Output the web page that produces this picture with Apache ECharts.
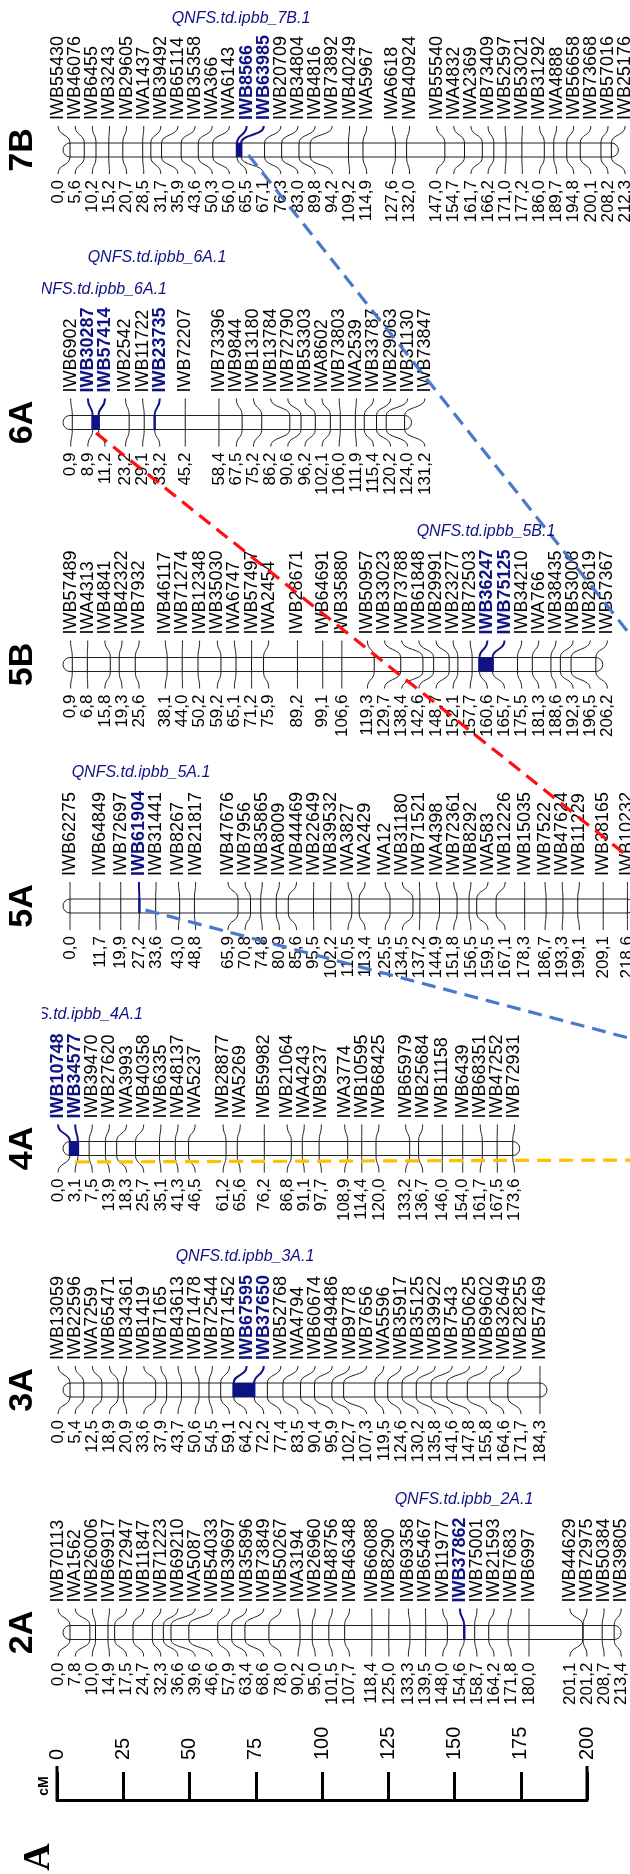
<!DOCTYPE html>
<html><head><meta charset="utf-8">
<script src="https://cdn.jsdelivr.net/npm/echarts@6/dist/echarts.min.js"></script>
<style>html,body{margin:0;padding:0;background:#fff}#c{width:630px;height:1874px}</style>
</head><body><div id="c"></div>
<script>
// ---------------- DATA ----------------
const chromosomes = ['7B','6A','5B','5A','4A','3A','2A'];

const markers_7B = ['IWB55430','IWB46076','IWB6455','IWB3243','IWB29605','IWA1437','IWB39492','IWB65114','IWB35358','IWA366','IWA6143','IWB8566','IWB63985','IWB20709','IWB34804','IWB4816','IWB73892','IWB40249','IWA5967','IWA6618','IWB40924','IWB55540','IWA4832','IWA2369','IWB73409','IWB52597','IWB53021','IWB31292','IWA4888','IWB56658','IWB73668','IWB57016','IWB25176'];
const pos_7B = [0.0,5.6,10.2,15.2,20.7,28.5,31.7,35.9,43.6,50.3,56.0,65.5,67.1,76.3,83.0,89.8,94.2,109.2,114.9,127.6,132.0,147.0,154.7,161.7,166.2,171.0,177.2,186.0,189.7,194.8,200.1,208.2,212.3];

const markers_6A = ['IWB6902','IWB30287','IWB57414','IWB2542','IWB11722','IWB23735','IWB72207','IWB73396','IWB9844','IWB13180','IWB13784','IWB72790','IWB53303','IWA8602','IWB73803','IWA2539','IWB33787','IWB29063','IWB31130','IWB73847'];
const pos_6A = [0.9,8.9,11.2,23.2,29.1,33.2,45.2,58.4,67.5,75.2,86.2,90.6,96.2,102.1,106.0,111.9,115.4,120.2,124.0,131.2];

const markers_5B = ['IWB57489','IWA4313','IWB4841','IWB42322','IWB7932','IWB46117','IWB71274','IWB12348','IWB35030','IWA6747','IWB57497','IWA2454','IWB28671','IWB64691','IWB35880','IWB50957','IWB33023','IWB73788','IWB61848','IWB29991','IWB23277','IWB72503','IWB36247','IWB75125','IWB34210','IWA766','IWB38435','IWB53008','IWB28619','IWB57367'];
const pos_5B = [0.9,6.8,15.8,19.3,25.6,38.1,44.0,50.2,59.2,65.1,71.2,75.9,89.2,99.1,106.6,119.3,129.7,138.4,142.6,148.7,152.1,157.7,160.6,165.7,175.5,181.3,188.6,192.3,196.5,206.2];

const markers_5A = ['IWB62275','IWB64849','IWB72697','IWB61904','IWB31441','IWB8267','IWB21817','IWB47676','IWB7956','IWB35865','IWA8009','IWB44469','IWB22649','IWB39532','IWA3827','IWA2429','IWA12','IWB31180','IWB71521','IWA4398','IWB72361','IWB8292','IWA583','IWB12226','IWB15035','IWB7522','IWB47624','IWB11229','IWB38165','IWB10232'];
const pos_5A = [0.0,11.7,19.9,27.2,33.6,43.0,48.8,65.9,70.8,74.8,80.9,85.6,95.5,102.2,110.5,113.4,125.5,134.5,137.2,144.9,151.8,156.5,159.5,167.1,178.3,186.7,193.3,199.1,209.1,218.6];

const markers_4A = ['IWB10748','IWB34577','IWB39470','IWB27620','IWA3993','IWB40358','IWB6335','IWB48137','IWA5237','IWB28877','IWA5269','IWB59982','IWB21064','IWA4243','IWB9237','IWA3774','IWB10595','IWB68425','IWB65979','IWB25684','IWB11158','IWB6439','IWB68351','IWB47252','IWB72931'];
const pos_4A = [0.0,3.1,7.5,13.9,18.3,25.7,35.1,41.3,46.5,61.2,65.6,76.2,86.8,91.1,97.7,108.9,114.4,120.0,133.2,136.7,146.0,154.0,161.7,167.5,173.6];

const markers_3A = ['IWB13059','IWB22596','IWA7259','IWB65471','IWB34361','IWB1419','IWB7165','IWB43613','IWB71478','IWB72544','IWB71452','IWB67595','IWB37650','IWB52768','IWA4794','IWB60674','IWB49486','IWB9778','IWB7656','IWA5596','IWB35917','IWB35125','IWB39922','IWB7543','IWB50625','IWB69602','IWB32649','IWB28255','IWB57469'];
const pos_3A = [0.0,5.4,12.5,18.9,20.9,33.6,37.9,43.7,50.6,54.5,59.1,64.2,72.2,77.4,83.5,90.4,95.9,102.7,107.3,119.5,124.6,130.2,135.8,141.6,147.8,155.8,164.6,171.7,184.3];

const markers_2A = ['IWB70113','IWA1562','IWB26006','IWB69917','IWB72947','IWB11847','IWB71223','IWB69210','IWA5087','IWB54033','IWB39697','IWB35896','IWB73849','IWB50267','IWA3194','IWB26960','IWB48756','IWB46348','IWB66088','IWB8290','IWB69358','IWB65467','IWB11977','IWB37862','IWB75001','IWB21593','IWB7683','IWB6997','IWB44629','IWB72975','IWB50384','IWB39805'];
const pos_2A = [0.0,7.8,10.0,14.9,17.5,24.7,32.3,36.6,39.6,46.6,57.9,63.4,68.6,78.0,90.2,95.0,101.5,107.7,118.4,125.0,133.3,139.5,148.0,154.6,158.7,164.2,171.8,180.0,201.1,201.2,208.7,213.4];

const qtlMarkers_7B = ['IWB8566','IWB63985'];
const qtlMarkers_6A = ['IWB30287','IWB57414','IWB23735'];
const qtlMarkers_5B = ['IWB36247','IWB75125'];
const qtlMarkers_5A = ['IWB61904'];
const qtlMarkers_4A = ['IWB10748','IWB34577'];
const qtlMarkers_3A = ['IWB67595','IWB37650'];
const qtlMarkers_2A = ['IWB37862'];

const qtlNames = ['QNFS.td.ipbb_7B.1','QNFS.td.ipbb_6A.1','QNFS.td.ipbb_6A.1','QNFS.td.ipbb_5B.1','QNFS.td.ipbb_5A.1','QNFS.td.ipbb_4A.1','QNFS.td.ipbb_3A.1','QNFS.td.ipbb_2A.1'];

const scaleMin = 0, scaleMax = 200, scaleStep = 25;

// ---------------- LAYOUT ----------------
const markerSets = {'7B':markers_7B,'6A':markers_6A,'5B':markers_5B,'5A':markers_5A,'4A':markers_4A,'3A':markers_3A,'2A':markers_2A};
const posSets = {'7B':pos_7B,'6A':pos_6A,'5B':pos_5B,'5A':pos_5A,'4A':pos_4A,'3A':pos_3A,'2A':pos_2A};
const qtlSets = {'7B':qtlMarkers_7B,'6A':qtlMarkers_6A,'5B':qtlMarkers_5B,'5A':qtlMarkers_5A,'4A':qtlMarkers_4A,'3A':qtlMarkers_3A,'2A':qtlMarkers_2A};
const ROW_Y = {'7B':150,'6A':422.5,'5B':664.5,'5A':906,'4A':1148.5,'3A':1390,'2A':1632.5};
const FONT = '"Liberation Sans", Arial, sans-serif';
const NAVY = '#0f1285';
const ROD = 7, CONN = 24, LOFF = 30, GAP = 17.15, LEFT_BOUND = 58;
const PX_PER_CM = 2.55, LEFT = 70, W = 630, H = 1874;

// dashed QTL links [fromCM, fromY, toCM, toY]
const LINKS = [
  {p:[70, 155, 223.5, 647], color:'#4a78cc'},
  {p:[10.2, 433, 223.5, 866], color:'#ff1010'},
  {p:[29.6, 910, 223.5, 1041], color:'#4a78cc'},
  {p:[2.0, 1162, 223.5, 1160], color:'#ffc000'}
];

function spread(ideal, gap, lo) {
  const cl = ideal.map(v => ({n:1, sum:v, first:v}));
  const place = c => { c.first = Math.max(lo, c.sum / c.n - (c.n - 1) * gap / 2); };
  cl.forEach(place);
  let merged = true;
  while (merged) {
    merged = false;
    for (let i = 0; i < cl.length - 1; i++) {
      const a = cl[i], b = cl[i + 1];
      if (a.first + a.n * gap > b.first + 1e-6) {
        a.n += b.n; a.sum += b.sum; place(a); cl.splice(i + 1, 1); merged = true; break;
      }
    }
  }
  const out = [];
  cl.forEach(c => { for (let k = 0; k < c.n; k++) out.push(c.first + k * gap); });
  return out;
}

function fmt(v) { return v.toFixed(1).replace('.', ','); }

function renderChrom(params, api) {
  const c = chromosomes[api.value(0)];
  const names = markerSets[c], pos = posSets[c], hiSet = qtlSets[c];
  const rowY = ROW_Y[c];
  const cy = api.coord([0, rowY])[1];
  const x0 = api.coord([0, rowY])[0];
  const tx = pos.map(p => api.coord([p, rowY])[0]);
  const lx = spread(tx, GAP, LEFT_BOUND);
  const hi = names.map(n => hiSet.indexOf(n) >= 0);
  const ch = [];
  ch.push({type:'rect', shape:{x:x0 - ROD, y:cy - ROD, width:tx[tx.length-1] - x0 + 2*ROD, height:2*ROD, r:ROD},
    style:{fill:'#fff', stroke:'#222', lineWidth:1}});
  pos.forEach((p, i) => {
    ch.push({type:'line', shape:{x1:tx[i], y1:cy - ROD, x2:tx[i], y2:cy + ROD},
      style:{stroke: hi[i] ? NAVY : '#111', lineWidth: hi[i] ? 2.5 : 1}});
  });
  let i = 0;
  while (i < pos.length) {
    if (hi[i]) {
      let j = i;
      while (j + 1 < pos.length && hi[j + 1]) j++;
      if (j > i) {
        ch.push({type:'rect', shape:{x:tx[i] - 1, y:cy - ROD, width:tx[j] - tx[i] + 2, height:2*ROD},
          style:{fill:NAVY}});
      }
      i = j + 1;
    } else i++;
  }
  pos.forEach((p, k) => {
    const col = hi[k] ? NAVY : '#222';
    const lw = hi[k] ? 2 : 1;
    ch.push({type:'bezierCurve', shape:{x1:lx[k], y1:cy - CONN, cpx1:lx[k], cpy1:cy - 14, cpx2:tx[k], cpy2:cy - 16, x2:tx[k], y2:cy - ROD},
      style:{stroke:col, lineWidth:lw, fill:null}});
    ch.push({type:'bezierCurve', shape:{x1:tx[k], y1:cy + ROD, cpx1:tx[k], cpy1:cy + 16, cpx2:lx[k], cpy2:cy + 14, x2:lx[k], y2:cy + CONN},
      style:{stroke:'#222', lineWidth:1, fill:null}});
    ch.push({type:'text', x:lx[k], y:cy - LOFF, rotation:Math.PI/2,
      style:{text:names[k], fill: hi[k] ? NAVY : '#000', fontSize:18, fontFamily:FONT, fontWeight: hi[k] ? 'bold' : 'normal', align:'left', verticalAlign:'middle'}});
    ch.push({type:'text', x:lx[k], y:cy + LOFF, rotation:Math.PI/2,
      style:{text:fmt(p), fill:'#000', fontSize:17, fontFamily:FONT, align:'right', verticalAlign:'middle'}});
  });
  ch.push({type:'text', x:23, y:cy, rotation:Math.PI/2,
    style:{text:c, fill:'#000', fontSize:34, fontWeight:'bold', fontFamily:FONT, align:'center', verticalAlign:'middle'}});
  return {type:'group', children:ch};
}

function renderLink(params, api) {
  const L = LINKS[api.value(0)];
  const a = api.coord([L.p[0], L.p[1]]), b = api.coord([L.p[2], L.p[3]]);
  return {type:'line', shape:{x1:a[0], y1:a[1], x2:b[0], y2:b[1]},
    style:{stroke:L.color, lineWidth:3.2, lineDash:[14, 8]}};
}

// longer end ticks of the cM scale
function renderEndTick(params, api) {
  const base = api.coord([api.value(0), 0]);
  return {type:'line', shape:{x1:base[0], y1:base[1], x2:base[0], y2:base[1] - 34},
    style:{stroke:'#000', lineWidth:3}};
}

const titleStyle = {fill:NAVY, fontSize:16, fontStyle:'italic', fontFamily:FONT};
function title(text, x, y, align) {
  return {type:'text', x:x, y:y, z:5, style:Object.assign({text:text, align:align || 'center', verticalAlign:'middle'}, titleStyle)};
}

const chart = echarts.init(document.getElementById('c'), null, {renderer:'canvas', width:W, height:H});
chart.setOption({
  animation:false,
  backgroundColor:'#fff',
  grid:[
    {left:LEFT, right:0, top:0, bottom:0, containLabel:false, outerBoundsMode:'none'},
    {left:57, top:1700, width:530, height:100, containLabel:false, outerBoundsMode:'none'}
  ],
  xAxis:[
    {gridIndex:0, type:'value', min:0, max:(W - LEFT) / PX_PER_CM, show:false},
    {gridIndex:1, type:'value', min:scaleMin, max:scaleMax, interval:scaleStep, position:'bottom',
      axisLine:{show:true, onZero:false, lineStyle:{color:'#000', width:3}},
      axisTick:{show:true, inside:true, length:28, lineStyle:{color:'#000', width:3}},
      axisLabel:{show:true, inside:true, rotate:90, margin:40, fontSize:20, color:'#000', fontFamily:FONT, showMinLabel:true, showMaxLabel:true},
      splitLine:{show:false}}
  ],
  yAxis:[
    {gridIndex:0, type:'value', min:0, max:H, inverse:true, show:false},
    {gridIndex:1, type:'value', min:0, max:1, show:false}
  ],
  series:[
    {type:'custom', xAxisIndex:0, yAxisIndex:0, silent:true, clip:false, z:2,
      data:chromosomes.map((c, i) => [i, 0]), renderItem:renderChrom},
    {type:'custom', xAxisIndex:0, yAxisIndex:0, silent:true, clip:false, z:4,
      data:LINKS.map((l, i) => [i, 0]), renderItem:renderLink},
    {type:'custom', xAxisIndex:1, yAxisIndex:1, silent:true, clip:false, z:3,
      data:[[scaleMin, 0], [scaleMax, 0]], renderItem:renderEndTick}
  ],
  graphic:[
    title(qtlNames[0], 241, 19),
    title(qtlNames[1], 157, 258),
    title(qtlNames[2], 167, 290, 'right'),
    title(qtlNames[3], 486, 532),
    title(qtlNames[4], 141, 773),
    title(qtlNames[5], 143, 1015, 'right'),
    title(qtlNames[6], 245, 1257),
    title(qtlNames[7], 464, 1500),
    {type:'rect', z:6, shape:{x:0, y:278, width:42, height:24}, style:{fill:'#fff'}},
    {type:'rect', z:6, shape:{x:0, y:1003, width:42, height:24}, style:{fill:'#fff'}},
    {type:'text', x:44, y:1786, rotation:Math.PI/2, z:7,
      style:{text:'cM', fill:'#000', fontSize:14, fontWeight:'bold', fontFamily:FONT, align:'center', verticalAlign:'middle'}},
    {type:'text', x:39, y:1857, rotation:Math.PI/2, z:7,
      style:{text:'A', fill:'#000', fontSize:38, fontWeight:'bold', fontFamily:'"Liberation Serif", "DejaVu Serif", serif', align:'center', verticalAlign:'middle'}}
  ]
});
</script>
</body></html>
